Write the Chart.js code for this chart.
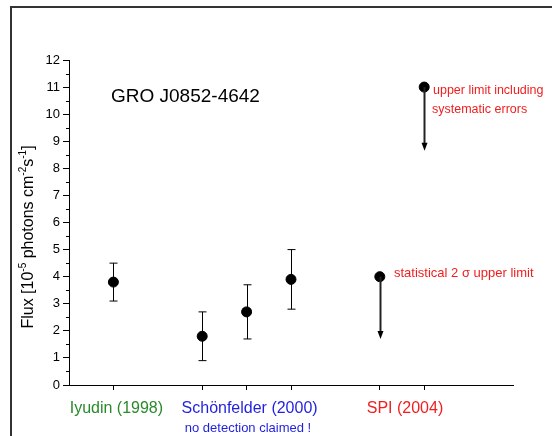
<!DOCTYPE html>
<html>
<head>
<meta charset="utf-8">
<script src="https://cdn.jsdelivr.net/npm/chart.js@4"></script>
<style>
  body { margin: 0; background: #fff; }
  #wrap { width: 552px; height: 436px; position: relative; }
</style>
</head>
<body>
<div id="wrap"><canvas id="myChart" width="552" height="436"></canvas></div>
<script>
// 測定点 (x位置, フラックス, 誤差下限, 誤差上限)
const xPos = [1, 3, 4, 5];
const flux = [3.8, 1.8, 2.7, 3.9];
const errLow = [3.1, 0.9, 1.7, 2.8];
const errHigh = [4.5, 2.7, 3.7, 5.0];

// 上限値 (SPI)
const ulX = [7, 8];
const ulVal = [4.0, 11.0];
const ulTip = [1.7, 8.65];

// 軸の目盛り
const xTicks = [1, 3, 4, 5, 7, 8];
const yTicks = [0, 1, 2, 3, 4, 5, 6, 7, 8, 9, 10, 11, 12];

// カテゴリラベル
const groups = [
  { text: 'Iyudin (1998)', from: 1, to: 1, color: '#2a8a2a' },
  { text: 'Schönfelder (2000)', from: 3, to: 5, color: '#1f1fe0' },
  { text: 'SPI (2004)', from: 7, to: 8, color: '#f01e1e' }
];

const FONT = '"Liberation Sans", Arial, sans-serif';

// 枠線・誤差棒・注釈を描くプラグイン
const extras = {
  id: 'extras',
  beforeDraw(chart) {
    const c = chart.ctx;
    c.save();
    c.strokeStyle = '#333';
    c.lineWidth = 2;
    c.beginPath();
    c.moveTo(11, 436);
    c.lineTo(11, 7);
    c.lineTo(552, 7);
    c.stroke();
    c.restore();
  },
  afterDatasetsDraw(chart) {
    const c = chart.ctx;
    const xs = chart.scales.x;
    const ys = chart.scales.y;
    c.save();
    c.strokeStyle = '#000';
    c.fillStyle = '#000';
    c.lineWidth = 1;

    // 誤差棒
    xPos.forEach((x, i) => {
      const px = Math.round(xs.getPixelForValue(x)) + 0.5;
      const lo = ys.getPixelForValue(errLow[i]);
      const hi = ys.getPixelForValue(errHigh[i]);
      c.beginPath();
      c.moveTo(px, lo); c.lineTo(px, hi);
      c.moveTo(px - 4, lo); c.lineTo(px + 4, lo);
      c.moveTo(px - 4, hi); c.lineTo(px + 4, hi);
      c.stroke();
    });

    // 上限値の矢印
    ulX.forEach((x, i) => {
      const px = Math.round(xs.getPixelForValue(x)) + 0.5;
      const top = ys.getPixelForValue(ulVal[i]);
      const tip = ys.getPixelForValue(ulTip[i]);
      c.lineWidth = 2;
      c.strokeStyle = '#222';
      c.beginPath();
      c.moveTo(px, top); c.lineTo(px, tip - 4);
      c.stroke();
      c.beginPath();
      c.moveTo(px - 3, tip - 8);
      c.lineTo(px + 3, tip - 8);
      c.lineTo(px, tip);
      c.closePath();
      c.fill();
    });

    // y軸の副目盛り
    c.lineWidth = 1;
    c.strokeStyle = '#000';
    for (let v = 0.5; v < 12; v += 1) {
      const py = Math.round(ys.getPixelForValue(v)) + 0.5;
      c.beginPath();
      c.moveTo(xs.left - 3, py); c.lineTo(xs.left, py);
      c.stroke();
    }

    // タイトル
    c.fillStyle = '#000';
    c.font = '19px ' + FONT;
    c.textBaseline = 'middle';
    c.fillText('GRO J0852-4642', 111, 97);

    // 注釈 (赤)
    c.fillStyle = '#f01e1e';
    c.font = '12.5px ' + FONT;
    c.fillText('upper limit including', 433, 91);
    c.fillText('systematic errors', 432, 110);
    c.font = '13px ' + FONT;
    c.fillText('statistical 2 σ upper limit', 394, 273);

    // カテゴリラベル
    c.textAlign = 'center';
    c.font = '16px ' + FONT;
    groups.forEach(g => {
      const px = (xs.getPixelForValue(g.from) + xs.getPixelForValue(g.to)) / 2;
      c.fillStyle = g.color;
      c.fillText(g.text, px + 3, 409);
    });
    c.font = '13px ' + FONT;
    c.fillStyle = '#1f1fe0';
    c.fillText('no detection claimed !', 248, 428);

    // y軸タイトル (上付き文字付き)
    const parts = [
      ['Flux [10', false], ['-5', true], [' photons cm', false], ['-2', true],
      ['s', false], ['-1', true], [']', false]
    ];
    const big = '16px ' + FONT;
    const small = '10px ' + FONT;
    let total = 0;
    parts.forEach(p => { c.font = p[1] ? small : big; total += c.measureText(p[0]).width; });
    c.translate(33, 237);
    c.rotate(-Math.PI / 2);
    c.textAlign = 'left';
    c.textBaseline = 'alphabetic';
    c.fillStyle = '#000';
    let xx = -total / 2;
    parts.forEach(p => {
      c.font = p[1] ? small : big;
      c.fillText(p[0], xx, p[1] ? -7 : 0);
      xx += c.measureText(p[0]).width;
    });
    c.restore();
  }
};

const ctx = document.getElementById('myChart');

new Chart(ctx, {
  type: 'scatter',
  data: {
    datasets: [
      {
        label: 'detections',
        data: xPos.map((x, i) => ({ x: x, y: flux[i] })),
        backgroundColor: '#000',
        borderColor: '#000',
        pointRadius: 5,
      },
      {
        label: 'upper limits',
        data: ulX.map((x, i) => ({ x: x, y: ulVal[i] })),
        backgroundColor: '#000',
        borderColor: '#000',
        pointRadius: 5,
      }
    ]
  },
  options: {
    responsive: false,
    animation: false,
    layout: { padding: { top: 60, right: 39, left: 0, bottom: 0 } },
    plugins: {
      legend: { display: false },
      tooltip: { enabled: false }
    },
    scales: {
      x: {
        type: 'linear',
        min: 0,
        max: 10,
        afterBuildTicks: function (scale) {
          scale.ticks = xTicks.map(v => ({ value: v }));
        },
        afterFit: function (scale) { scale.height = 51; },
        ticks: { callback: () => '', padding: 0 },
        grid: { drawOnChartArea: false, tickLength: 5, color: '#000' },
        border: { color: '#000', width: 1 }
      },
      y: {
        type: 'linear',
        min: 0,
        max: 12,
        afterBuildTicks: function (scale) {
          scale.ticks = yTicks.map(v => ({ value: v }));
        },
        afterFit: function (scale) { scale.width = 69; },
        ticks: {
          color: '#000',
          padding: 3,
          font: { family: FONT, size: 13 }
        },
        grid: { drawOnChartArea: false, tickLength: 6, color: '#000' },
        border: { color: '#000', width: 1 }
      }
    }
  },
  plugins: [extras]
});
</script>
</body>
</html>
